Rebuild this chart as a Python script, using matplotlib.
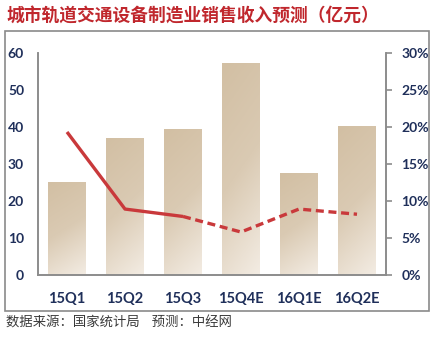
import numpy as np
import matplotlib
matplotlib.use("Agg")
import matplotlib.pyplot as plt
from matplotlib.colors import LinearSegmentedColormap
from matplotlib.patches import Rectangle

plt.rcParams['font.family'] = ['Noto Sans CJK SC', 'DejaVu Sans']

quarters = ['15Q1', '15Q2', '15Q3', '15Q4E', '16Q1E', '16Q2E']
revenue = [25.2, 37.1, 39.4, 57.1, 27.5, 40.1]          # 亿元
growth = [19.3, 8.9, 7.9, 5.8, 8.9, 8.2]                # %
n_actual = 3                                            # first three quarters are actual data

title_color = '#C0272D'
tick_color = '#1F2F5A'
line_color = '#C9393B'
axis_color = '#8C8C8C'

fig = plt.figure(figsize=(4.36, 3.39), dpi=100)

# outer frame of the chart area
frame = Rectangle((5 / 436, 1 - 311 / 339), 424 / 436, 280 / 339,
                  transform=fig.transFigure, fill=False,
                  edgecolor='#8A8A8A', linewidth=1.2)
fig.patches.append(frame)

fig.text(6 / 436, 1 - 16 / 339, '城市轨道交通设备制造业销售收入预测（亿元）',
         color=title_color, fontsize=12.8, fontweight='bold', va='center', ha='left')
fig.text(6 / 436, 1 - 323 / 339, '数据来源：国家统计局    预测：中经网',
         color='#3A3A3A', fontsize=9.6, fontweight='medium', va='center', ha='left')

ax = fig.add_axes([38 / 436, 1 - 275 / 339, 348 / 436, 222.3 / 339])
ax2 = ax.twinx()

x = np.arange(len(quarters))

# bars with a soft tan gradient
cmap = LinearSegmentedColormap.from_list('tan', ['#D2BFA3', '#DACAB3', '#F3ECE3'])
grad = np.linspace(0, 1, 256).reshape(-1, 1)
diag = grad + 0.25 * np.linspace(0, 1, 32).reshape(1, -1)
bars = ax.bar(x, revenue, width=0.64, color='none', edgecolor='none', zorder=2)
for b in bars:
    x0, y0 = b.get_x(), b.get_y()
    w, h = b.get_width(), b.get_height()
    im = ax.imshow(diag, cmap=cmap, aspect='auto', origin='upper',
                   extent=(x0, x0 + w, y0, y0 + h), zorder=2, vmin=0, vmax=1.25)
    im.set_clip_path(b)
ax.set_xlim(-0.5, len(quarters) - 0.5)
ax.set_ylim(0, 60)
ax2.set_ylim(0, 30)

# growth line: solid for actual, dashed for forecast
ax2.plot(x[:n_actual], growth[:n_actual], color=line_color, lw=2.4,
         solid_capstyle='butt', zorder=3)
ax2.plot(x[n_actual - 1:], growth[n_actual - 1:], color=line_color, lw=2.4,
         linestyle=(0, (2.4, 1.4)), zorder=3)

for a in (ax, ax2):
    a.spines['top'].set_visible(False)
    for s in ('left', 'right', 'bottom'):
        a.spines[s].set_color(axis_color)
        a.spines[s].set_linewidth(1.2)

ax.set_yticks(np.arange(0, 61, 10))
ax.set_yticklabels([str(v) for v in range(0, 61, 10)])
ax.tick_params(axis='y', length=0, pad=10, labelsize=10, labelcolor=tick_color)
ax.set_xticks(x)
ax.set_xticklabels(quarters)
ax.tick_params(axis='x', length=0, pad=12, labelsize=10.5, labelcolor=tick_color)

ax2.set_yticks(np.arange(0, 31, 5))
ax2.set_yticklabels([f'{v}%' for v in range(0, 31, 5)])
ax2.tick_params(axis='y', direction='out', length=4, width=1.2, color=axis_color,
                pad=7, labelsize=10, labelcolor=tick_color)

for lab in ax.get_xticklabels() + ax.get_yticklabels() + ax2.get_yticklabels():
    lab.set_family(['Lato', 'DejaVu Sans'])
    lab.set_fontweight('bold')

fig.savefig('out.png', dpi=100)
